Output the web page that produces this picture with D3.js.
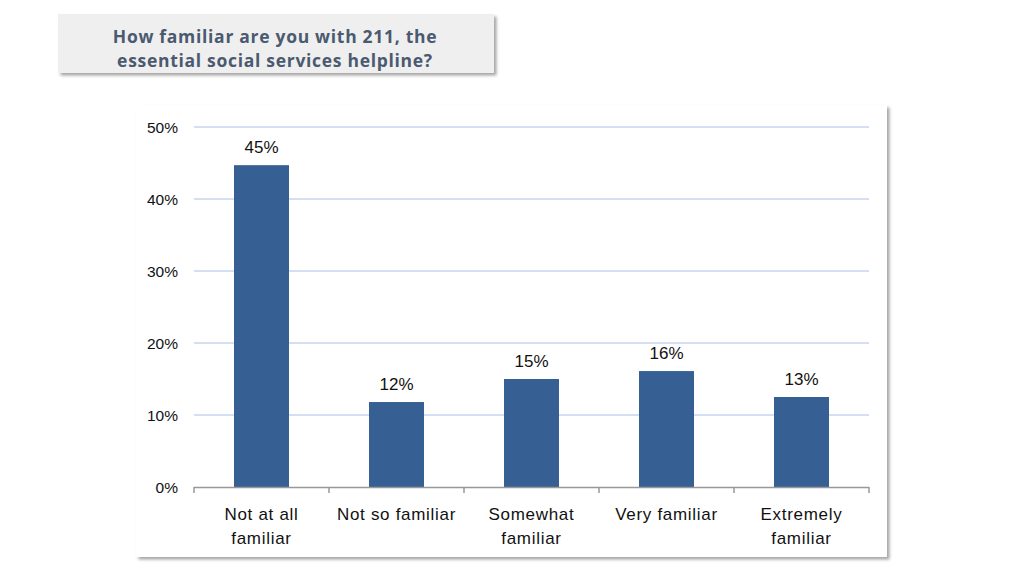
<!DOCTYPE html>
<html><head><meta charset="utf-8">
<script src="https://cdn.jsdelivr.net/npm/d3@7"></script>
<style>body{margin:0;background:#fff;}svg{display:block;}</style>
</head><body>
<svg id="c" width="1024" height="576"></svg>
<script>
const categories = [["Not at all","familiar"],["Not so familiar"],["Somewhat","familiar"],["Very familiar"],["Extremely","familiar"]];
const values = [44.7, 11.8, 15.0, 16.1, 12.5];
const valueLabels = ["45%","12%","15%","16%","13%"];
const yTicks = [0,10,20,30,40,50];
const titleLines = ["How familiar are you with 211, the","essential social services helpline?"];

const svg = d3.select("#c");
const defs = svg.append("defs");
const f = defs.append("filter").attr("id","sh").attr("x","-5%").attr("y","-5%").attr("width","110%").attr("height","115%");
f.append("feDropShadow").attr("dx",2.5).attr("dy",2.5).attr("stdDeviation",1.5).attr("flood-color","#000").attr("flood-opacity",0.35);

// title box
svg.append("rect").attr("x",58).attr("y",14).attr("width",436).attr("height",59).attr("fill","#efefef").attr("filter","url(#sh)");
svg.append("g").selectAll("text").data(titleLines).join("text")
  .attr("x",275).attr("y",(d,i)=>43+i*24).attr("text-anchor","middle")
  .attr("font-family","'Open Sans'").attr("font-weight","bold").attr("font-size",17.5).attr("letter-spacing",0.7)
  .attr("fill","#4a5a70").text(d=>d);

// chart box
svg.append("rect").attr("x",136).attr("y",105).attr("width",751).attr("height",452).attr("fill","#fff").attr("filter","url(#sh)");

const x0=194,x1=869,yTop=127,yBot=487;
const x = d3.scaleBand().domain(d3.range(categories.length)).range([x0,x1]).paddingInner(80/135).paddingOuter(40/135);
const y = d3.scaleLinear().domain([0,50]).range([yBot,yTop]);
const band = (x1-x0)/categories.length;

// gridlines
svg.append("g").selectAll("line").data(yTicks.filter(t=>t>0)).join("line")
  .attr("x1",x0).attr("x2",x1).attr("y1",d=>y(d)).attr("y2",d=>y(d)).attr("stroke","#c6d6ec").attr("stroke-width",1.5);

// y labels
svg.append("g").selectAll("text").data(yTicks).join("text")
  .attr("x",178).attr("y",d=>y(d)+6).attr("text-anchor","end")
  .attr("font-family","'Liberation Sans', Arial").attr("font-size",15.5).attr("fill","#111").text(d=>d+"%");

// bars
svg.append("g").selectAll("rect").data(values).join("rect")
  .attr("x",(d,i)=>x(i)).attr("width",x.bandwidth()).attr("y",d=>y(d)).attr("height",d=>yBot-y(d)).attr("fill","#365f94");

// value labels
svg.append("g").selectAll("text").data(values).join("text")
  .attr("x",(d,i)=>x(i)+x.bandwidth()/2).attr("y",d=>y(d)-12).attr("text-anchor","middle")
  .attr("font-family","'Liberation Sans', Arial").attr("font-size",17).attr("fill","#111").text((d,i)=>valueLabels[i]);

// x axis
svg.append("line").attr("x1",x0).attr("x2",x1).attr("y1",yBot+0.5).attr("y2",yBot+0.5).attr("stroke","#999").attr("stroke-width",1.5);
svg.append("g").selectAll("line").data(d3.range(categories.length+1)).join("line")
  .attr("x1",d=>x0+d*band).attr("x2",d=>x0+d*band).attr("y1",yBot).attr("y2",yBot+6).attr("stroke","#999").attr("stroke-width",1.5);

// category labels
const cg = svg.append("g").selectAll("text").data(categories).join("text")
  .attr("x",(d,i)=>x(i)+x.bandwidth()/2).attr("y",520).attr("text-anchor","middle")
  .attr("font-family","'Liberation Sans', Arial").attr("font-size",17).attr("letter-spacing",0.7).attr("fill","#111");
cg.selectAll("tspan").data(d=>d).join("tspan")
  .attr("x",function(){return this.parentNode.getAttribute("x");}).attr("dy",(d,i)=>i?24:0).text(d=>d);
</script>
</body></html>
